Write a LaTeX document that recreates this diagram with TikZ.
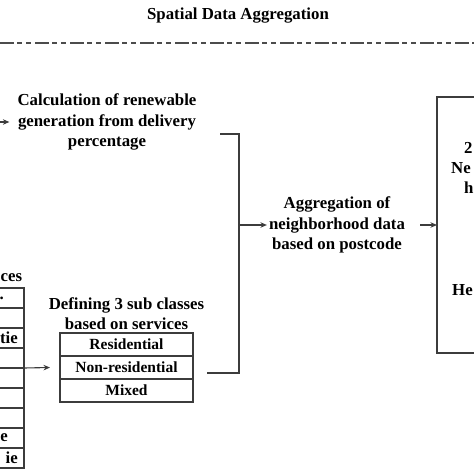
\documentclass[tikz,border=0pt]{standalone}
\usepackage{fontspec}
\setmainfont{Liberation Serif}
\usetikzlibrary{positioning}
\usetikzlibrary{arrows.meta}
\definecolor{linegray}{HTML}{3C3C3C}
\tikzstyle{txt} = [font=\bfseries\fontsize{16.8}{20.2}\selectfont, align=center, inner sep=0pt]
\tikzstyle{frag} = [font=\bfseries\fontsize{16.8}{20.2}\selectfont, inner sep=0pt]
\tikzstyle{cell} = [draw=linegray, line width=1.1pt, outer sep=0pt, inner sep=0pt, minimum width=133pt, minimum height=23pt, font=\bfseries\fontsize{15.5}{18}\selectfont]
\tikzstyle{lcell} = [draw=linegray, line width=1.1pt, outer sep=0pt, minimum width=100pt, minimum height=20pt]
\tikzstyle{link} = [draw=linegray, line width=1.1pt, -{Stealth[length=6.5pt,width=5.5pt]}]
\tikzstyle{bracket} = [draw=linegray, line width=1.1pt]
\tikzstyle{sep} = [draw=black!70, line width=2.4pt, dash pattern=on 14pt off 3pt on 5pt off 4pt on 5pt off 4pt]

\begin{document}
\begin{tikzpicture}[x=1pt, y=-1pt]
\useasboundingbox (0,0) rectangle (474,474);
\clip (0,0) rectangle (474,474);

\node[txt] (title) at (238,16) {Spatial Data Aggregation};
\coordinate (sepl) at (0,43);
\coordinate (sepr) at (474,43);
\draw[sep] (sepl) -- (sepr);

\node[txt] (calc) at (107,122) {Calculation of renewable\\generation from delivery\\percentage};
\coordinate (calcin) at (-2,122);
\draw[link] (calcin) -- ([xshift=-8pt]calc.west);

\foreach \i in {1,...,9}
  \node[lcell] (row\i) at (-26,278+20*\i) {};
\node[frag, anchor=south west] (srv) at (0.5,282) {ces};
\node[frag, anchor=east] (frag1) at (4,298) {.};
\node[frag, anchor=east] (frag3) at (18,338) {tie};
\node[frag, anchor=east] (frag8) at (8,438) {e};
\node[frag, anchor=east] (frag9) at (18,458) {ie};

\node[cell] (res) at (126.5,344.5) {Residential};
\node[cell, below=0pt of res] (nonres) {Non-residential};
\node[cell, below=0pt of nonres] (mixed) {Mixed};
\node[txt, above=3pt of res] (sub) {Defining 3 sub classes\\based on services};
\draw[link] (row4.south east) -- ([xshift=-10pt]nonres.west);

\coordinate (btop) at (220,134);
\coordinate (bmid) at (239,225);
\coordinate (bbot) at (207,373);
\draw[bracket] (btop) -| (bmid) |- (bbot);

\node[txt] (agg) at (337,225) {Aggregation of\\neighborhood data\\based on postcode};
\draw[link] (bmid) -- ([xshift=-2pt]agg.west);

\node[draw=linegray, line width=1.1pt, outer sep=0pt, minimum width=100pt, minimum height=256pt, anchor=north west] (hbox) at (437,97) {};
\draw[link] ([xshift=15pt]agg.east) -- (hbox.west);
\node[frag, anchor=west] (h2) at (464,148) {2};
\node[frag, anchor=west] (hne) at (451,168) {Ne};
\node[frag, anchor=west] (hh) at (464,188) {h};
\node[frag, anchor=west] (hhe) at (452,290) {He};
\end{tikzpicture}
\end{document}
